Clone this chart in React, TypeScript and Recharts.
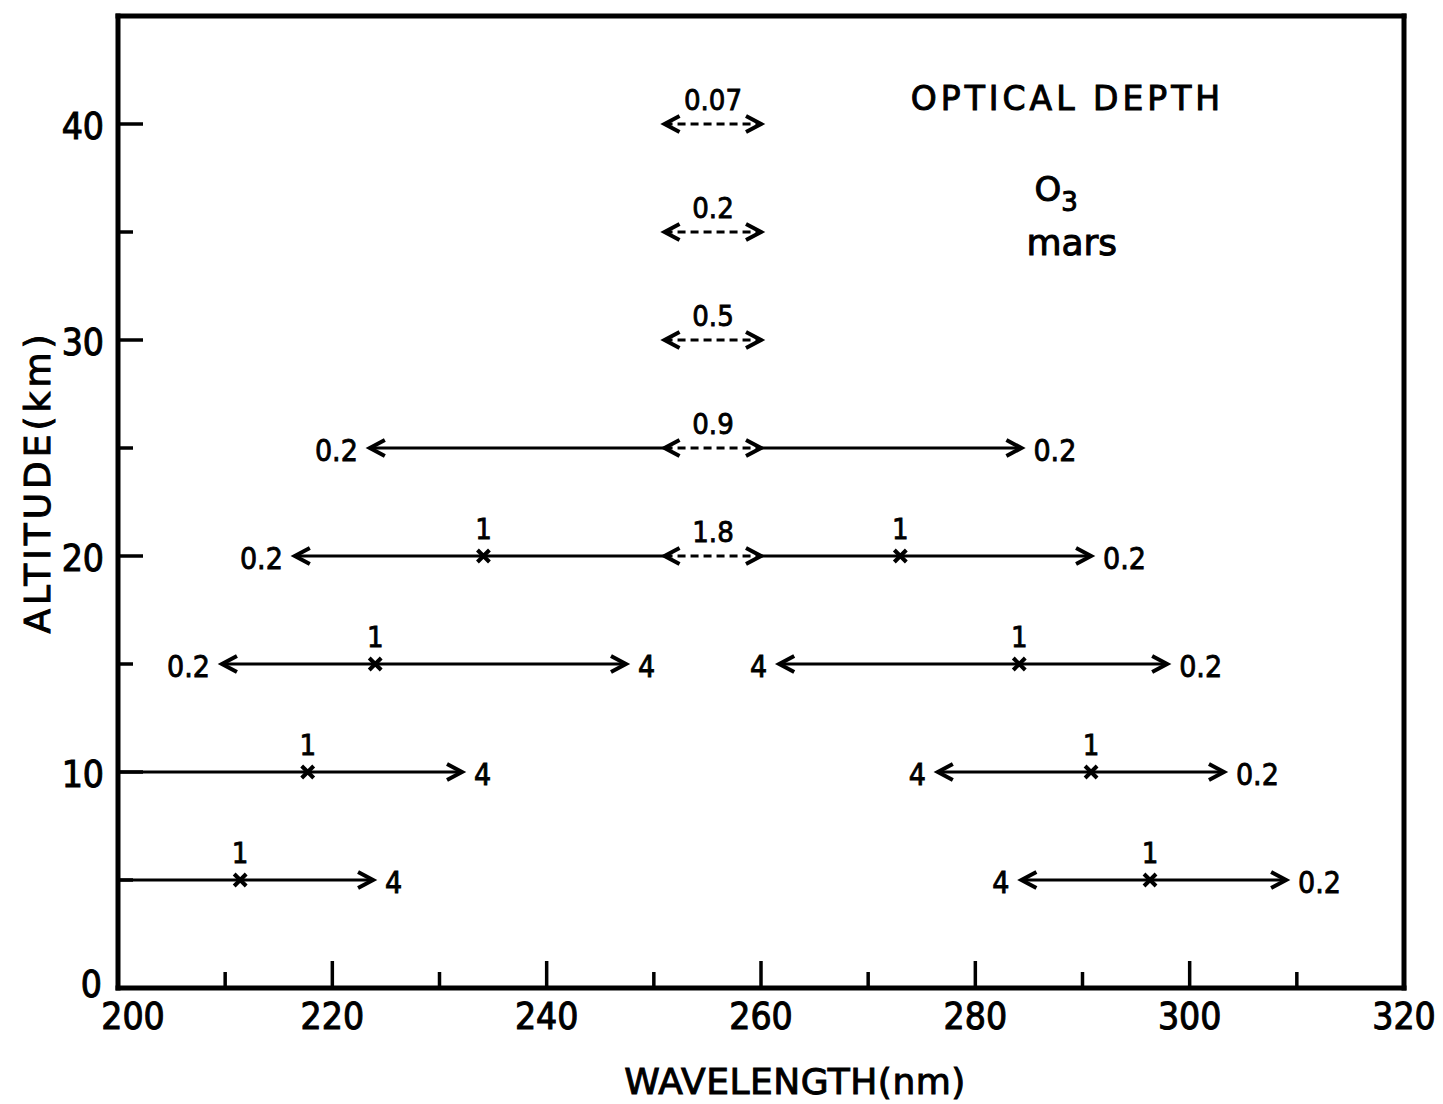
import React from 'react';
import { ComposedChart, Line, Scatter, XAxis, YAxis, Label, ReferenceDot } from 'recharts';

if (typeof document !== 'undefined') document.body.style.margin = '0';

const FONT = "'DejaVu Sans Condensed', 'DejaVu Sans', sans-serif";
const FONT_WIDE = "'DejaVu Sans', sans-serif";
const INK = '#000';

// axes
const xTicks = [200, 210, 220, 230, 240, 250, 260, 270, 280, 290, 300, 310, 320];
const yTicks = [0, 5, 10, 15, 20, 25, 30, 35, 40];

// dashed central band (251-260 nm), optical depth written above
const bandAlt = [40, 35, 30, 25, 20];
const bandDepth = ['0.07', '0.2', '0.5', '0.9', '1.8'];
const bandFrom = 251;
const bandTo = 260;

// solid arrows: head at "to", optical depth written past the head
const arrowAlt = [25, 25, 20, 20, 15, 15, 15, 15, 10, 10, 10, 10, 5, 5, 5, 5];
const arrowFrom = [251, 260, 251, 260, 224, 224, 284.1, 284.1, 217.7, 217.7, 290.8, 290.8, 211.4, 211.4, 296.3, 296.3];
const arrowTo = [223.5, 284.3, 216.5, 290.8, 209.7, 247.4, 261.7, 297.9, 200, 232.1, 276.5, 303.2, 200, 223.8, 284.3, 309];
const arrowDepth = ['0.2', '0.2', '0.2', '0.2', '0.2', '4', '4', '0.2', '', '4', '4', '0.2', '', '4', '4', '0.2'];

// unit optical depth (x marks)
const unitAlt = [20, 20, 15, 15, 10, 10, 5, 5];
const unitWl = [234.1, 273, 224, 284.1, 217.7, 290.8, 211.4, 296.3];
const unitLabel = '1';

const unitData = unitAlt.map((y, i) => ({ x: unitWl[i], y }));

// heavier lettering, like the stencil text of the original
const ink = (w: number) => ({ fill: INK, stroke: INK, strokeWidth: w });

function Head({ x, y, dir }: { x: number; y: number; dir: number }) {
  return (
    <path
      d={`M${x - dir * 15},${y - 8} L${x},${y} L${x - dir * 15},${y + 8}`}
      fill="none"
      stroke={INK}
      strokeWidth={4}
    />
  );
}

function BottomTick({ x, y, payload }: any) {
  const v = payload.value;
  const major = v % 20 === 0;
  const edge = v === 200 || v === 320;
  return (
    <g>
      {!edge && <line x1={x} x2={x} y1={y} y2={y - (major ? 27 : 16)} stroke={INK} strokeWidth={3.5} />}
      {major && (
        <text x={x + (v === 200 ? 15 : 0)} y={y + 41} textAnchor="middle" fontSize={37} fontFamily={FONT} {...ink(1)}>
          {v}
        </text>
      )}
    </g>
  );
}

function TopTick({ x, y, payload }: any) {
  const v = payload.value;
  if (v === 200 || v === 320) return <g />;
  const major = v % 20 === 0;
  return <line x1={x} x2={x} y1={y} y2={y + (major ? 27 : 17)} stroke={INK} strokeWidth={3.5} />;
}

function LeftTick({ x, y, payload }: any) {
  const v = payload.value;
  const major = v % 10 === 0;
  return (
    <g>
      {v > 0 && <line x1={x} x2={x + (major ? 25 : 15)} y1={y} y2={y} stroke={INK} strokeWidth={3.5} />}
      {major && (
        <text
          x={x - (v === 0 ? 16 : 14)}
          y={y + (v === 0 ? -4 : 2)}
          textAnchor="end"
          dominantBaseline="central"
          fontSize={37}
          fontFamily={FONT}
          {...ink(1)}
        >
          {v}
        </text>
      )}
    </g>
  );
}

function RightTick({ x, y, payload }: any) {
  const v = payload.value;
  if (v === 0) return <g />;
  const major = v % 10 === 0;
  return <line x1={x} x2={x - (major ? 20 : 12)} y1={y} y2={y} stroke={INK} strokeWidth={3.5} />;
}

function UnitMark({ cx, cy }: any) {
  return (
    <g>
      <path d={`M${cx - 6},${cy - 6} L${cx + 6},${cy + 6} M${cx + 6},${cy - 6} L${cx - 6},${cy + 6}`} stroke={INK} strokeWidth={4} />
      <text x={cx} y={cy - 27} textAnchor="middle" dominantBaseline="central" fontSize={29} fontFamily={FONT} {...ink(0.8)}>
        {unitLabel}
      </text>
    </g>
  );
}

const frameLine = { stroke: INK, strokeWidth: 5, strokeLinecap: 'square' as const };

export default function App() {
  return (
    <div style={{ width: 1443, height: 1104, background: '#fff' }}>
      <ComposedChart width={1443} height={1104} margin={{ top: 14, right: 0, bottom: 0, left: 0 }}>
        <XAxis
          xAxisId={0}
          dataKey="x"
          type="number"
          domain={[200, 320]}
          ticks={xTicks}
          interval={0}
          tickSize={0}
          tickMargin={0}
          tick={BottomTick}
          height={116}
          axisLine={frameLine}
        >
          <Label
            content={({ viewBox }: any) => (
              <text
                x={viewBox.x + viewBox.width / 2 + 34}
                y={viewBox.y + 106}
                textAnchor="middle"
                fontSize={36}
                fontFamily={FONT_WIDE}
                letterSpacing={0.5}
                {...ink(1)}
              >
                WAVELENGTH(nm)
              </text>
            )}
          />
        </XAxis>
        <XAxis
          xAxisId="top"
          orientation="top"
          dataKey="x"
          type="number"
          domain={[200, 320]}
          ticks={xTicks}
          interval={0}
          tickSize={0}
          tickMargin={0}
          tick={TopTick}
          height={2}
          axisLine={frameLine}
        />
        <YAxis
          yAxisId={0}
          type="number"
          domain={[0, 45]}
          ticks={yTicks}
          interval={0}
          tickSize={0}
          tickMargin={0}
          tick={LeftTick}
          width={118}
          axisLine={frameLine}
        >
          <Label
            content={({ viewBox }: any) => {
              const cx = viewBox.x + 37;
              const cy = viewBox.y + viewBox.height / 2 - 20;
              return (
                <text
                  x={cx}
                  y={cy}
                  transform={`rotate(-90 ${cx} ${cy})`}
                  textAnchor="middle"
                  dominantBaseline="central"
                  fontSize={36}
                  fontFamily={FONT_WIDE}
                  letterSpacing={4}
                  {...ink(1)}
                >
                  ALTITUDE(km)
                </text>
              );
            }}
          />
        </YAxis>
        <YAxis
          yAxisId="right"
          orientation="right"
          type="number"
          domain={[0, 45]}
          ticks={yTicks}
          interval={0}
          tickSize={0}
          tickMargin={0}
          tick={RightTick}
          width={39}
          axisLine={frameLine}
        />

        {bandAlt.map((alt, i) => (
          <Line
            key={`band${i}`}
            data={[
              { x: bandFrom, y: alt },
              { x: bandTo, y: alt },
            ]}
            dataKey="y"
            stroke={INK}
            strokeWidth={3}
            strokeDasharray="8 5"
            isAnimationActive={false}
            activeDot={false}
            legendType="none"
            dot={(p: any) => (
              <g key={`bd${i}-${p.index}`}>
                <Head x={p.cx} y={p.cy} dir={p.index === 0 ? -1 : 1} />
                {p.index === 1 && (
                  <text
                    x={p.cx - 48}
                    y={p.cy - 24}
                    textAnchor="middle"
                    dominantBaseline="central"
                    fontSize={29}
                    fontFamily={FONT}
                    {...ink(0.8)}
                  >
                    {bandDepth[i]}
                  </text>
                )}
              </g>
            )}
          />
        ))}

        {arrowAlt.map((alt, i) => {
          const dir = arrowTo[i] > arrowFrom[i] ? 1 : -1;
          const hasHead = arrowDepth[i] !== '';
          return (
            <Line
              key={`arrow${i}`}
              data={[
                { x: arrowFrom[i], y: alt },
                { x: arrowTo[i], y: alt },
              ]}
              dataKey="y"
              stroke={INK}
              strokeWidth={3.2}
              isAnimationActive={false}
              activeDot={false}
              legendType="none"
              dot={(p: any) =>
                p.index === 1 && hasHead ? (
                  <g key={`ad${i}`}>
                    <Head x={p.cx} y={p.cy} dir={dir} />
                    <text
                      x={p.cx + dir * 12}
                      y={p.cy + 2}
                      textAnchor={dir > 0 ? 'start' : 'end'}
                      dominantBaseline="central"
                      fontSize={30}
                      fontFamily={FONT}
                      {...ink(0.8)}
                    >
                      {arrowDepth[i]}
                    </text>
                  </g>
                ) : (
                  <g key={`ad${i}-${p.index}`} />
                )
              }
            />
          );
        })}

        <Scatter data={unitData} dataKey="y" shape={UnitMark} isAnimationActive={false} legendType="none" />

        <ReferenceDot
          x={288.6}
          y={41.2}
          r={0}
          fill="none"
          stroke="none"
          label={{
            content: ({ viewBox }: any) => (
              <text
                x={viewBox.x}
                y={viewBox.y}
                textAnchor="middle"
                dominantBaseline="central"
                fontSize={33}
                fontFamily={FONT_WIDE}
                letterSpacing={4}
                {...ink(1)}
              >
                OPTICAL  DEPTH
              </text>
            ),
          }}
        />
        <ReferenceDot
          x={287.2}
          y={37}
          r={0}
          fill="none"
          stroke="none"
          label={{
            content: ({ viewBox }: any) => (
              <text x={viewBox.x - 18} y={viewBox.y + 12} fontSize={34} fontFamily={FONT_WIDE} {...ink(1)}>
                O
                <tspan fontSize={26} dy={10}>
                  3
                </tspan>
              </text>
            ),
          }}
        />
        <ReferenceDot
          x={289}
          y={34.5}
          r={0}
          fill="none"
          stroke="none"
          label={{
            content: ({ viewBox }: any) => (
              <text
                x={viewBox.x}
                y={viewBox.y}
                textAnchor="middle"
                dominantBaseline="central"
                fontSize={36}
                fontFamily={FONT_WIDE}
                {...ink(1)}
              >
                mars
              </text>
            ),
          }}
        />
      </ComposedChart>
    </div>
  );
}
